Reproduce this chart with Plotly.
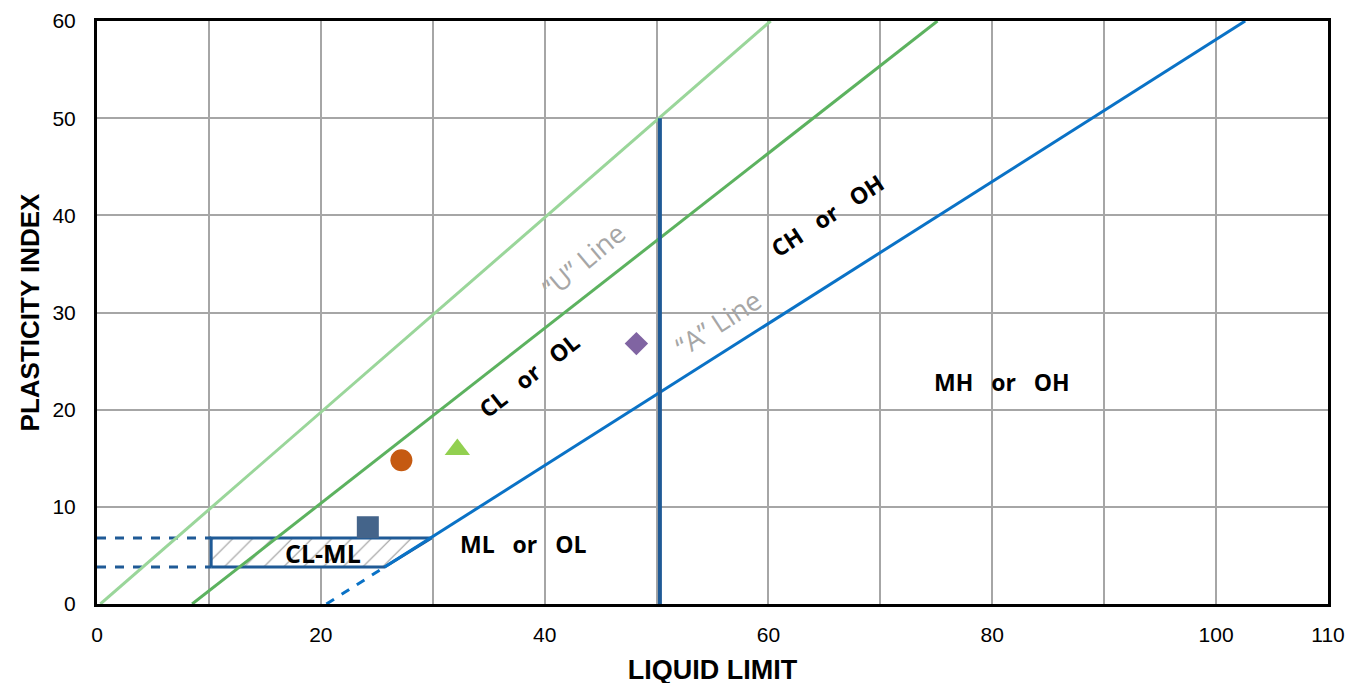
import plotly.graph_objects as go

# ---- data ----
x_ticks = [0, 10, 20, 30, 40, 50, 60, 70, 80, 90, 100, 110]
x_ticktext = ["0", "", "20", "", "40", "", "60", "", "80", "", "100", "110"]
y_ticks = [0, 10, 20, 30, 40, 50, 60]

u_line_x = [0.3, 60.2]
u_line_y = [0, 60]
cl_line_x = [8.5, 75.1]
cl_line_y = [0, 60]
a_dash_x = [20.5, 25.7]
a_dash_y = [0, 3.8]
a_line_x = [25.7, 102.6]
a_line_y = [3.8, 60]
ll50_x = [50.3, 50.3]
ll50_y = [0, 50]
clml_top = 6.8
clml_bot = 3.8
clml_x = [10.2, 10.2, 29.9, 25.7, 10.2]
clml_y = [clml_bot, clml_top, clml_top, clml_bot, clml_bot]
left_dash_x = [0, 10.2]

samples_x = [27.2, 32.2, 24.2, 48.2]
samples_y = [14.8, 15.9, 7.9, 26.8]
sample_symbols = ["circle", "triangle-up", "square", "diamond"]
sample_colors = ["#C55A11", "#92D050", "#44648A", "#8064A2"]

zone_labels = ["CH&nbsp;&nbsp; or&nbsp;&nbsp; OH", "CL&nbsp;&nbsp; or&nbsp;&nbsp; OL",
               "MH&nbsp;&nbsp; or&nbsp;&nbsp; OH", "ML&nbsp;&nbsp; or&nbsp;&nbsp; OL", "CL-ML"]
zone_x = [65.3, 38.6, 80.9, 38.1, 20.2]
zone_y = [40.0, 23.6, 22.8, 6.2, 5.3]
zone_angle = [-33, -38, 0, 0, 0]

line_labels = ["\u201cU\u201d Line", "\u201cA\u201d Line"]
line_lab_x = [43.4, 55.5]
line_lab_y = [35.4, 29.0]
line_lab_angle = [-40, -33]

fig = go.Figure()

# hatched CL-ML zone
fig.add_trace(go.Scatter(x=clml_x, y=clml_y, mode="lines", fill="toself",
                         fillcolor="rgba(0,0,0,0)",
                         fillpattern=dict(shape="/", fgcolor="#333333", bgcolor="white",
                                          size=14, solidity=0.08),
                         line=dict(color="#1F5A96", width=3), hoverinfo="skip"))
# left dashed lines
for yy in [clml_top, clml_bot]:
    fig.add_trace(go.Scatter(x=left_dash_x, y=[yy, yy], mode="lines",
                             line=dict(color="#1F5A96", width=3, dash="dash")))

fig.add_trace(go.Scatter(x=u_line_x, y=u_line_y, mode="lines",
                         line=dict(color="#9AD69A", width=3)))
fig.add_trace(go.Scatter(x=cl_line_x, y=cl_line_y, mode="lines",
                         line=dict(color="#5CB25F", width=3)))
fig.add_trace(go.Scatter(x=a_dash_x, y=a_dash_y, mode="lines",
                         line=dict(color="#0A72C6", width=3, dash="dash")))
fig.add_trace(go.Scatter(x=a_line_x, y=a_line_y, mode="lines",
                         line=dict(color="#0A72C6", width=3)))
fig.add_trace(go.Scatter(x=ll50_x, y=ll50_y, mode="lines",
                         line=dict(color="#1F5A96", width=4)))

for sx, sy, sym, col in zip(samples_x, samples_y, sample_symbols, sample_colors):
    fig.add_trace(go.Scatter(x=[sx], y=[sy], mode="markers",
                             marker=dict(symbol=sym, color=col, size=22 if sym != "diamond" else 18,
                                         line=dict(width=0))))

for t, x, y, a in zip(zone_labels, zone_x, zone_y, zone_angle):
    fig.add_annotation(x=x, y=y, text=t, showarrow=False, textangle=a,
                       font=dict(family="Open Sans, sans-serif",
                                 size=23 if t != "CL-ML" else 25, color="black", weight="bold"))

for t, x, y, a in zip(line_labels, line_lab_x, line_lab_y, line_lab_angle):
    fig.add_annotation(x=x, y=y, text=t, showarrow=False, textangle=a,
                       font=dict(family="Open Sans, Liberation Sans, sans-serif", size=27, color="#A6A6A6"))

fig.update_layout(
    width=1361, height=683, showlegend=False,
    plot_bgcolor="white", paper_bgcolor="white",
    margin=dict(l=89, r=41, t=13, b=87, autoexpand=False),
    font=dict(family="Liberation Sans, Arial, sans-serif", size=21, color="black"),
    xaxis=dict(range=[0, 110], tickvals=x_ticks, ticktext=x_ticktext, automargin=False,
               showgrid=True, gridcolor="#A6A6A6", gridwidth=1.5, zeroline=False,
               showline=True, linecolor="black", linewidth=3, mirror=True, ticks="",
               ticklabelstandoff=10, ticklabeloverflow="allow",
               title=dict(text="<b>LIQUID LIMIT</b>", font=dict(size=27), standoff=15)),
    yaxis=dict(range=[0, 60], tickvals=y_ticks, automargin=False,
               showgrid=True, gridcolor="#A6A6A6", gridwidth=1.5, zeroline=False,
               showline=True, linecolor="black", linewidth=3, mirror=True, ticks="",
               ticklabelstandoff=14, ticklabeloverflow="allow",
               title=dict(text="<b>PLASTICITY INDEX</b>", font=dict(size=26), standoff=6)),
)

fig.write_html("out.html")
